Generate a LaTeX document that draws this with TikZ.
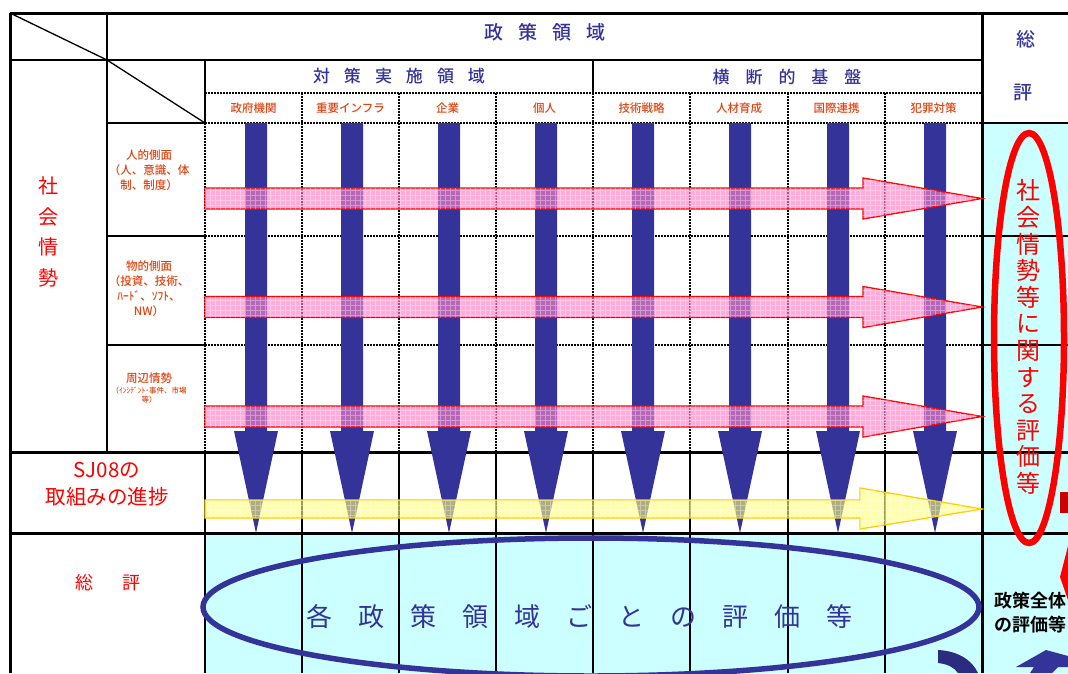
\documentclass[tikz,border=0pt]{standalone}
\usepackage{fontspec}
\setmainfont{Noto Sans CJK JP}
\newfontfamily\jpb{Noto Sans CJK JP Bold}
\IfFontExistsTF{Noto Sans CJK JP Medium}{\newfontfamily\jpm{Noto Sans CJK JP Medium}}{\newfontfamily\jpm[FakeBold=0.4]{Noto Sans CJK JP}}
\definecolor{pblue}{HTML}{333399}
\definecolor{dblue}{HTML}{2B2B80}
\definecolor{lblred}{HTML}{DD4411}
\definecolor{cyanbg}{HTML}{CCFFFF}
\definecolor{pinkf}{HTML}{FF80C8}
\definecolor{yelf}{HTML}{FFFF77}
\definecolor{goldline}{HTML}{FFCC00}
\definecolor{dred}{HTML}{CC0000}
\tikzset{
  solidln/.style={line width=2pt, black},
  heavyln/.style={line width=3pt, black},
  thinln/.style={line width=1.3pt, black},
  dotln/.style={line width=1.3pt, black, dash pattern=on 1.5pt off 1.5pt},
  hdr/.style={font=\jpm\fontsize{19}{20}\selectfont, text=pblue, inner sep=0},
  sub/.style={font=\jpm\fontsize{17}{18}\selectfont, text=pblue, inner sep=0},
  collbl/.style={font=\jpm\fontsize{11.5}{12}\selectfont, text=lblred, inner sep=0},
  rowlbl/.style={font=\jpm\fontsize{11.5}{15}\selectfont, text=lblred, inner sep=0, align=center},
  redtxt/.style={text=red, inner sep=0, align=center},
  pinkarrow/.style={fill=pinkf, fill opacity=0.65, draw=red, draw opacity=1, line width=1.3pt},
  yelarrow/.style={fill=yelf, fill opacity=0.6, draw=goldline, draw opacity=1, line width=1.3pt},
}
\begin{document}
\begin{tikzpicture}[x=1pt,y=-1pt]
\useasboundingbox (0,0) rectangle (1068,673);
\clip (0,0) rectangle (1068,673);
% backgrounds
\fill[cyanbg] (205,533) rectangle (1068,673);
\fill[cyanbg] (982,123) rectangle (1068,533);
% dotted grid in body
\foreach \y in {93,123,236,345} \draw[dotln] (205,\y) -- (982,\y);
\foreach \x in {205,302,399,496,593,690,788,885} \draw[dotln] (\x,123) -- (\x,452);
\foreach \x in {302,399,496,593,690,788,885} \draw[dotln] (\x,93) -- (\x,123);
% solid lines
\draw[solidln] (10,60) -- (982,60);
\draw[solidln] (107,13) -- (107,452);
\draw[solidln] (205,60) -- (205,123);
\draw[solidln] (593,60) -- (593,93);
\draw[solidln] (107,123) -- (205,123);
\draw[solidln] (107,236) -- (205,236);
\draw[solidln] (107,345) -- (205,345);
\draw[solidln] (205,452) -- (205,673);
\draw[thinln] (982,123) -- (1068,123);
\foreach \y in {236,345} \draw[thinln] (982,\y) -- (1068,\y);
\foreach \x in {302,399,496,593,690,788,885} \draw[thinln] (\x,452) -- (\x,673);
\draw[heavyln] (10,452) -- (1068,452);
\draw[heavyln] (10,533) -- (1068,533);
\draw[heavyln] (982,13) -- (982,673);
\draw[heavyln] (10,13) -- (1068,13);
\draw[heavyln] (10,13) -- (10,673);
% diagonals
\draw[line width=1.3pt] (10,13) -- (107,60);
\draw[line width=1.3pt] (107,60) -- (205,123);
% blue arrows
\foreach \c in {256,352,449,546,643,740,838,935}{
  \fill[pblue] ({\c-11},123) -- ({\c+11},123) -- ({\c+11},431) -- ({\c+22},431) -- (\c,533) -- ({\c-22},431) -- ({\c-11},431) -- cycle;
}
% pink arrows
\foreach \yc in {198.5,307,416.5}{
  \path[pinkarrow] (205,{\yc-10.5}) -- (863,{\yc-10.5}) -- (863,{\yc-20.5}) -- (982,\yc) -- (863,{\yc+20.5}) -- (863,{\yc+10.5}) -- (205,{\yc+10.5}) -- cycle;
  \begin{scope}
    \clip (205,{\yc-10.5}) -- (863,{\yc-10.5}) -- (863,{\yc-20.5}) -- (982,\yc) -- (863,{\yc+20.5}) -- (863,{\yc+10.5}) -- (205,{\yc+10.5}) -- cycle;
    \draw[white, opacity=0.35, line width=0.5pt, step=5pt] (205,{\yc-22}) grid (982,{\yc+22});
  \end{scope}
}
% yellow arrow
\path[yelarrow] (205,500) -- (860,500) -- (860,488) -- (982,509) -- (860,529) -- (860,518) -- (205,518) -- cycle;
\begin{scope}
  \clip (205,500) -- (860,500) -- (860,488) -- (982,509) -- (860,529) -- (860,518) -- (205,518) -- cycle;
  \draw[white, opacity=0.35, line width=0.5pt, step=5pt] (205,486) grid (982,531);
\end{scope}
% header texts
\node[hdr] (hdrpol) at (545,32) {政\hspace{15pt}策\hspace{15pt}領\hspace{15pt}域};
\node[sub] (hdrimp) at (399,76) {対\hspace{14pt}策\hspace{14pt}実\hspace{14pt}施\hspace{14pt}領\hspace{14pt}域};
\node[sub] (hdrbase) at (787,77) {横\hspace{16pt}断\hspace{16pt}的\hspace{16pt}基\hspace{16pt}盤};
\node[hdr] (hdrtot1) at (1026,39) {総};
\node[hdr] (hdrtot2) at (1023,93) {評};
% column labels
\node[collbl] (c1) at (253.5,108) {政府機関};
\node[collbl] (c2) at (350.5,108) {重要インフラ};
\node[collbl] (c3) at (447.5,108) {企業};
\node[collbl] (c4) at (544.5,108) {個人};
\node[collbl] (c5) at (641.5,108) {技術戦略};
\node[collbl] (c6) at (739,108) {人材育成};
\node[collbl] (c7) at (836.5,108) {国際連携};
\node[collbl] (c8) at (933.5,108) {犯罪対策};
% row labels
\node[rowlbl] (r1) at (149,170) {人的側面\\（人、意識、体\\制、制度）};
\node[rowlbl] (r2) at (149,289) {物的側面\\（投資、技術、\\ﾊｰﾄﾞ、ｿﾌﾄ、\\NW）};
\node[rowlbl] (r3) at (149,378) {周辺情勢};
\node[collbl, font=\jpm\fontsize{7.5}{8.5}\selectfont, align=center] (r3b) at (149,395) {（ｲﾝｼﾃﾞﾝﾄ･事件、市場\\等）};
% left texts
\node[redtxt, font=\fontsize{20}{30.7}\selectfont] (soc) at (48,232) {社\\会\\情\\勢};
\node[redtxt, font=\fontsize{20.5}{27}\selectfont] (sj) at (107,484) {SJ08の\\取組みの進捗};
\node[redtxt, font=\fontsize{18}{20}\selectfont] (tot) at (108,583) {総\hspace{30pt}評};
% blue ellipse
\draw[pblue, line width=5.5pt] (591,607) ellipse [x radius=388, y radius=69];
\node[font=\fontsize{26}{28}\selectfont, text=pblue, inner sep=0] (each) at (579,617) {各\hspace{26pt}政\hspace{26pt}策\hspace{26pt}領\hspace{26pt}域\hspace{26pt}ご\hspace{26pt}と\hspace{26pt}の\hspace{26pt}評\hspace{26pt}価\hspace{26pt}等};
% red ellipse
\draw[red, line width=6.5pt] (1029,338) ellipse [x radius=35, y radius=205];
\node[redtxt, font=\fontsize{24}{26.6}\selectfont] (socev) at (1028,337) {社\\会\\情\\勢\\等\\に\\関\\す\\る\\評\\価\\等};
% right-edge fragments
\fill[dred] (1060,492) rectangle (1068,513);
\fill[red] (1068,546) -- (1060,577) -- (1068,600) -- cycle;
\node[anchor=north west, inner sep=0, align=left, font=\jpb\fontsize{18}{24}\selectfont] (whole) at (994,592) {政策全体\\の評価等};
\fill[dblue] (938,650) .. controls (958,651) and (972,660) .. (978,673) -- (958,673) .. controls (954,667) and (947,664) .. (938,663) -- cycle;
\fill[pblue] (1016,667) -- (1046,650) -- (1068,656) -- (1068,667) -- (1058,667) -- (1052,673) -- (1030,673) -- (1034,667) -- cycle;
\end{tikzpicture}
\end{document}
